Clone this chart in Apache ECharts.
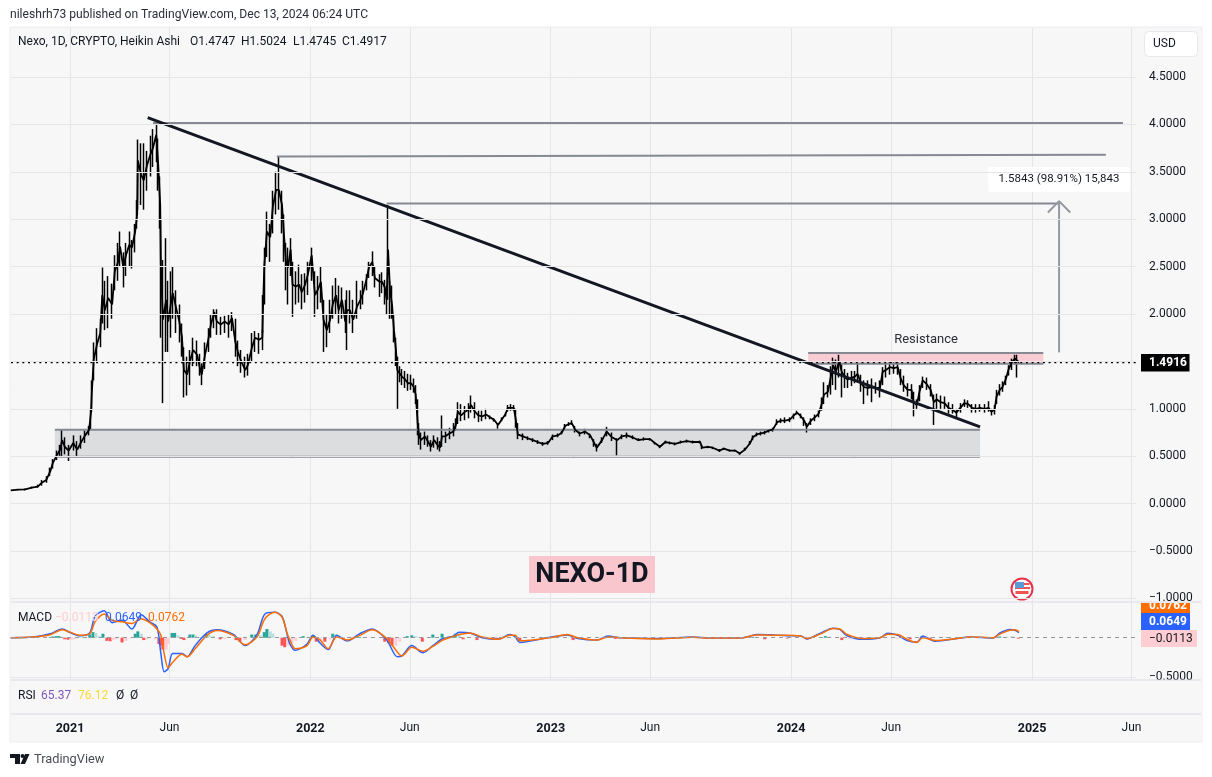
<!DOCTYPE html>
<html>
<head>
<meta charset="utf-8">
<title>NEXO-1D</title>
<script src="https://cdn.jsdelivr.net/npm/echarts@6/dist/echarts.min.js"></script>
<style>
  html, body { margin: 0; padding: 0; background: #fff; }
  #chart { width: 1212px; height: 777px; }
</style>
</head>
<body>
<div id="chart"></div>
<script>
// all day numbers are days since 2021-01-01
const priceDays = [
  -90, -79, -68, -58, -49, -43, -36, -30, -26, -20,
  -15, -12, -8, -2, 5, 11, 17, 23, 29, 32,
  33, 36, 41, 46, 49, 53, 58, 64, 68, 73,
  76, 81, 85, 90, 94, 99, 102, 103, 108, 112,
  117, 122, 126, 131, 134, 137, 138, 141, 146, 149,
  153, 156, 161, 166, 170, 173, 178, 182, 187, 193,
  197, 200, 205, 210, 214, 219, 223, 229, 235, 241,
  246, 251, 255, 260, 266, 270, 276, 281, 287, 292,
  293, 295, 299, 304, 308, 313, 317, 322, 325, 328,
  331, 335, 338, 343, 348, 352, 357, 361, 367, 372,
  376, 381, 385, 390, 395, 399, 404, 408, 413, 418,
  421, 425, 430, 436, 441, 445, 450, 454, 459, 463,
  470, 474, 478, 481, 483, 486, 489, 492, 495, 497,
  500, 504, 509, 513, 518, 522, 525, 528, 530, 533,
  539, 544, 548, 553, 558, 562, 565, 570, 576, 582,
  586, 589, 594, 600, 605, 609, 614, 620, 626, 632,
  638, 644, 650, 656, 661, 665, 670, 674, 677, 680,
  688, 695, 703, 710, 718, 726, 733, 741, 747, 752,
  758, 762, 767, 774, 782, 790, 796, 800, 808, 815,
  823, 831, 838, 846, 854, 863, 872, 881, 888, 896,
  904, 911, 919, 928, 937, 946, 957, 960, 969, 976,
  986, 993, 1002, 1010, 1017, 1025, 1033, 1037, 1043, 1049,
  1055, 1061, 1067, 1074, 1080, 1086, 1093, 1099, 1104, 1109,
  1115, 1119, 1125, 1131, 1137, 1142, 1145, 1151, 1156, 1159,
  1163, 1168, 1172, 1177, 1181, 1187, 1192, 1196, 1201, 1206,
  1212, 1218, 1224, 1230, 1234, 1239, 1245, 1251, 1257, 1261,
  1266, 1272, 1278, 1281, 1286, 1290, 1295, 1301, 1307, 1312,
  1316, 1322, 1328, 1334, 1340, 1346, 1352, 1358, 1364, 1370,
  1376, 1382, 1389, 1395, 1399, 1404, 1407, 1412, 1416, 1421,
  1425, 1430, 1435, 1438, 1441
];
const priceClose = [
  0.14, 0.147, 0.15, 0.17, 0.18, 0.22, 0.25, 0.34, 0.43, 0.51,
  0.57, 0.67, 0.60, 0.56, 0.64, 0.57, 0.65, 0.72, 0.78, 0.97,
  1.15, 1.52, 1.68, 1.80, 2.20, 2.04, 2.17, 2.10, 2.45, 2.55,
  2.71, 2.49, 2.62, 2.73, 2.70, 2.87, 3.05, 3.62, 3.47, 3.41,
  3.57, 3.68, 3.75, 3.89, 3.57, 3.15, 2.52, 1.94, 2.15, 1.92,
  2.10, 2.22, 2.07, 1.92, 1.76, 1.41, 1.36, 1.50, 1.62, 1.57,
  1.44, 1.36, 1.57, 1.73, 1.89, 2.02, 1.92, 1.89, 1.92, 1.89,
  1.96, 1.71, 1.60, 1.50, 1.41, 1.46, 1.64, 1.75, 1.73, 1.75,
  2.04, 2.50, 2.87, 2.81, 3.13, 3.31, 3.31, 3.15, 2.83, 2.55,
  2.49, 2.68, 2.31, 2.29, 2.31, 2.23, 2.31, 2.41, 2.62, 2.20,
  2.25, 2.34, 1.94, 1.83, 1.94, 2.10, 2.20, 2.04, 2.15, 1.92,
  2.04, 2.04, 1.94, 2.08, 2.15, 2.22, 2.36, 2.49, 2.55, 2.38,
  2.34, 2.34, 2.28, 2.15, 2.68, 2.25, 2.10, 1.83, 1.62, 1.41,
  1.39, 1.34, 1.31, 1.27, 1.27, 1.23, 1.15, 0.85, 0.72, 0.67,
  0.71, 0.65, 0.60, 0.67, 0.62, 0.59, 0.71, 0.71, 0.74, 0.76,
  0.83, 0.97, 0.93, 0.97, 0.99, 1.04, 0.98, 0.93, 0.92, 0.94,
  0.91, 0.885, 0.83, 0.89, 0.94, 1.01, 1.01, 1.01, 0.885, 0.73,
  0.71, 0.69, 0.67, 0.65, 0.63, 0.64, 0.71, 0.72, 0.75, 0.82,
  0.84, 0.85, 0.78, 0.74, 0.76, 0.72, 0.64, 0.59, 0.67, 0.76,
  0.70, 0.67, 0.71, 0.72, 0.70, 0.67, 0.68, 0.68, 0.64, 0.60,
  0.65, 0.64, 0.63, 0.65, 0.66, 0.65, 0.65, 0.59, 0.60, 0.59,
  0.56, 0.58, 0.56, 0.56, 0.53, 0.57, 0.64, 0.70, 0.73, 0.74,
  0.75, 0.77, 0.78, 0.86, 0.875, 0.875, 0.885, 0.93, 0.96, 0.93,
  0.875, 0.81, 0.875, 0.91, 0.95, 1.06, 1.15, 1.18, 1.36, 1.46,
  1.39, 1.50, 1.39, 1.33, 1.31, 1.33, 1.34, 1.37, 1.27, 1.23,
  1.22, 1.23, 1.22, 1.22, 1.39, 1.41, 1.44, 1.43, 1.44, 1.33,
  1.25, 1.20, 1.20, 1.07, 1.04, 1.18, 1.30, 1.26, 1.20, 1.07,
  1.10, 1.07, 1.06, 1.01, 0.99, 0.96, 1.01, 1.06, 1.05, 1.01,
  1.00, 1.01, 1.00, 1.01, 0.97, 0.99, 1.13, 1.20, 1.23, 1.31,
  1.41, 1.49, 1.53, 1.51, 1.4917
];
const priceHigh = [
  0.145, 0.155, 0.16, 0.18, 0.20, 0.25, 0.29, 0.38, 0.47, 0.56,
  0.62, 0.78, 0.70, 0.62, 0.72, 0.66, 0.72, 0.77, 0.82, 1.00,
  1.30, 1.70, 1.85, 1.95, 2.49, 2.35, 2.40, 2.32, 2.62, 2.75,
  2.87, 2.65, 2.75, 2.87, 2.78, 2.95, 3.20, 3.84, 3.80, 3.80,
  3.72, 3.88, 3.95, 4.03, 3.85, 3.45, 3.00, 2.57, 2.80, 2.35,
  2.45, 2.50, 2.25, 2.10, 1.90, 1.65, 1.55, 1.62, 1.75, 1.72,
  1.58, 1.48, 1.70, 1.85, 2.00, 2.05, 2.05, 1.97, 1.98, 2.00,
  2.02, 1.95, 1.72, 1.62, 1.55, 1.58, 1.80, 1.82, 1.80, 1.83,
  2.20, 2.70, 3.08, 2.95, 3.30, 3.50, 3.66, 3.30, 3.05, 2.75,
  2.70, 2.80, 2.55, 2.45, 2.52, 2.42, 2.43, 2.55, 2.70, 2.45,
  2.40, 2.50, 2.15, 2.00, 2.15, 2.30, 2.38, 2.30, 2.28, 2.15,
  2.25, 2.25, 2.15, 2.35, 2.25, 2.35, 2.42, 2.55, 2.66, 2.50,
  2.42, 2.44, 2.36, 2.30, 3.15, 2.35, 2.30, 2.00, 1.75, 1.55,
  1.45, 1.42, 1.40, 1.37, 1.36, 1.32, 1.25, 1.10, 0.85, 0.75,
  0.76, 0.72, 0.67, 0.72, 0.70, 0.66, 0.93, 0.76, 0.80, 0.85,
  0.90, 1.07, 1.05, 1.03, 1.06, 1.14, 1.07, 0.98, 0.98, 1.00,
  0.93, 0.90, 0.85, 0.91, 0.96, 1.04, 1.05, 1.04, 1.00, 0.85,
  0.74, 0.71, 0.69, 0.67, 0.65, 0.66, 0.73, 0.74, 0.77, 0.84,
  0.86, 0.88, 0.82, 0.76, 0.79, 0.74, 0.68, 0.63, 0.70, 0.81,
  0.75, 0.69, 0.73, 0.75, 0.72, 0.69, 0.70, 0.69, 0.65, 0.61,
  0.665, 0.655, 0.645, 0.665, 0.675, 0.665, 0.665, 0.62, 0.61, 0.60,
  0.575, 0.59, 0.57, 0.57, 0.54, 0.59, 0.66, 0.72, 0.75, 0.76,
  0.77, 0.78, 0.80, 0.89, 0.90, 0.91, 0.91, 0.95, 0.98, 0.95,
  0.91, 0.85, 0.90, 0.94, 0.98, 1.12, 1.28, 1.25, 1.45, 1.54,
  1.52, 1.57, 1.48, 1.42, 1.38, 1.40, 1.40, 1.48, 1.36, 1.30,
  1.30, 1.32, 1.28, 1.30, 1.44, 1.47, 1.50, 1.49, 1.50, 1.42,
  1.35, 1.27, 1.26, 1.18, 1.10, 1.25, 1.34, 1.33, 1.26, 1.15,
  1.16, 1.14, 1.13, 1.07, 1.05, 1.00, 1.06, 1.10, 1.09, 1.05,
  1.05, 1.05, 1.05, 1.08, 1.00, 1.04, 1.20, 1.26, 1.29, 1.35,
  1.46, 1.53, 1.57, 1.57, 1.5024
];
const priceLow = [
  0.135, 0.14, 0.14, 0.16, 0.17, 0.19, 0.22, 0.29, 0.37, 0.46,
  0.50, 0.50, 0.52, 0.45, 0.56, 0.49, 0.58, 0.64, 0.72, 0.78,
  0.97, 1.30, 1.50, 1.65, 1.90, 1.83, 1.85, 1.95, 2.25, 2.35,
  2.50, 2.28, 2.40, 2.50, 2.48, 2.65, 2.90, 3.10, 3.15, 3.10,
  3.30, 3.45, 3.55, 3.60, 3.30, 2.90, 1.75, 1.06, 1.60, 1.60,
  1.75, 1.95, 1.80, 1.70, 1.55, 1.12, 1.14, 1.25, 1.45, 1.45,
  1.35, 1.25, 1.42, 1.60, 1.75, 1.85, 1.78, 1.78, 1.80, 1.75,
  1.82, 1.55, 1.45, 1.38, 1.33, 1.35, 1.50, 1.60, 1.58, 1.62,
  1.80, 2.10, 2.60, 2.55, 2.85, 3.05, 3.10, 2.85, 2.55, 2.25,
  2.10, 2.40, 1.97, 2.10, 2.12, 2.05, 2.12, 2.20, 2.35, 1.97,
  2.05, 2.12, 1.60, 1.65, 1.80, 1.95, 2.00, 1.90, 1.95, 1.80,
  1.62, 1.90, 1.80, 1.95, 2.05, 2.10, 2.25, 2.38, 2.40, 2.28,
  2.18, 2.22, 2.10, 2.00, 2.15, 1.95, 1.95, 1.70, 1.45, 1.00,
  1.28, 1.25, 1.22, 1.19, 1.20, 1.17, 1.05, 0.72, 0.62, 0.57,
  0.62, 0.60, 0.55, 0.59, 0.57, 0.55, 0.60, 0.64, 0.68, 0.71,
  0.77, 0.84, 0.87, 0.88, 0.90, 0.96, 0.90, 0.86, 0.87, 0.89,
  0.89, 0.865, 0.79, 0.87, 0.92, 0.97, 0.98, 0.98, 0.80, 0.68,
  0.67, 0.67, 0.65, 0.63, 0.61, 0.62, 0.67, 0.70, 0.73, 0.78,
  0.82, 0.83, 0.75, 0.71, 0.73, 0.69, 0.60, 0.55, 0.64, 0.71,
  0.66, 0.51, 0.68, 0.69, 0.68, 0.66, 0.665, 0.665, 0.625, 0.585,
  0.635, 0.625, 0.615, 0.635, 0.645, 0.635, 0.635, 0.575, 0.585, 0.575,
  0.545, 0.565, 0.55, 0.55, 0.515, 0.555, 0.62, 0.67, 0.71, 0.72,
  0.73, 0.75, 0.76, 0.83, 0.85, 0.85, 0.86, 0.89, 0.94, 0.90,
  0.82, 0.75, 0.83, 0.87, 0.91, 0.98, 1.05, 1.12, 1.15, 1.25,
  1.20, 1.33, 1.12, 1.22, 1.22, 1.24, 1.27, 1.28, 1.18, 1.05,
  1.14, 1.07, 1.16, 1.12, 1.25, 1.33, 1.36, 1.37, 1.36, 1.25,
  1.18, 1.13, 1.10, 0.92, 1.00, 1.08, 1.22, 1.20, 1.13, 0.83,
  1.00, 1.00, 1.00, 0.95, 0.95, 0.90, 0.96, 1.02, 1.01, 0.96,
  0.96, 0.97, 0.96, 0.97, 0.93, 0.94, 1.05, 1.14, 1.18, 1.25,
  1.35, 1.41, 1.47, 1.33, 1.4745
];

const macdDays = [
  -90, -56, -30, -12, 0, 15, 30, 38, 52, 64,
  79, 94, 108, 121, 132, 138, 143, 149, 156, 170,
  178, 190, 208, 223, 248, 266, 284, 296, 311, 322,
  330, 334, 342, 360, 369, 380, 392, 405, 421, 440,
  459, 481, 497, 504, 519, 536, 551, 566, 582, 591,
  607, 626, 650, 668, 676, 683, 729, 755, 771, 800,
  817, 835, 896, 946, 972, 1022, 1043, 1068, 1089, 1109,
  1119, 1139, 1159, 1169, 1180, 1204, 1230, 1242, 1257, 1271,
  1286, 1295, 1314, 1347, 1367, 1402, 1412, 1427, 1435, 1441
];
const macdLine = [
  0, 0.008, 0.05, 0.11, 0.065, 0.025, 0.06, 0.27, 0.34, 0.19,
  0.22, 0.11, 0.29, 0.20, 0.135, -0.20, -0.43, -0.39, -0.20, -0.20,
  -0.24, -0.10, 0.06, 0.10, 0.04, -0.10, 0.04, 0.30, 0.32, 0.27,
  0.03, -0.08, -0.16, -0.08, 0.03, -0.07, -0.15, 0.03, -0.04, 0.05,
  0.11, -0.03, -0.24, -0.23, -0.10, -0.19, -0.10, -0.01, 0.02, 0.07,
  0.06, 0, -0.02, 0.04, 0.01, -0.06, 0.005, 0.035, -0.01, -0.03,
  0.02, 0, -0.01, 0.01, -0.005, 0, 0.04, 0.035, 0.025, 0.025,
  -0.015, 0.055, 0.12, 0.105, 0.025, -0.02, 0, 0.055, 0.03, -0.035,
  -0.055, 0.02, -0.045, -0.01, 0.01, -0.005, 0.06, 0.105, 0.095, 0.0649
];
const signalLine = [
  0, 0.008, 0.038, 0.10, 0.07, 0.03, 0.05, 0.20, 0.30, 0.22,
  0.20, 0.18, 0.24, 0.19, 0.11, 0.03, -0.20, -0.38, -0.31, -0.21,
  -0.24, -0.14, 0.03, 0.09, 0.03, -0.09, 0.01, 0.24, 0.32, 0.26,
  0.05, -0.03, -0.14, -0.10, 0.01, -0.03, -0.14, 0.01, -0.03, 0.03,
  0.10, -0.01, -0.18, -0.23, -0.12, -0.17, -0.11, -0.03, 0.015, 0.04,
  0.06, 0.01, -0.02, 0.03, 0.03, -0.04, 0, 0.04, 0, -0.03,
  0.01, 0, -0.015, 0.005, -0.005, 0, 0.035, 0.03, 0.03, 0.02,
  -0.01, 0.045, 0.115, 0.11, 0.04, -0.01, 0, 0.045, 0.04, -0.02,
  -0.06, 0, -0.035, -0.01, 0.01, 0, 0.045, 0.095, 0.10, 0.0762
];
const histDays = [
  -30, -26, -21, -17, -12, -8, -3, 2, 6, 11,
  15, 20, 30, 35, 39, 44, 50, 56, 61, 65,
  70, 79, 85, 91, 99, 103, 108, 112, 117, 129,
  135, 138, 141, 146, 149, 155, 159, 164, 169, 173,
  182, 187, 191, 197, 207, 211, 217, 228, 235, 252,
  258, 266, 276, 282, 289, 295, 299, 304, 308, 313,
  322, 326, 331, 337, 343, 354, 361, 369, 374, 380,
  387, 395, 399, 404, 415, 425, 440, 456, 478, 484,
  489, 495, 501, 512, 519, 525, 535, 551, 565, 585,
  591, 597, 618, 627, 648, 683, 733, 764, 785, 820,
  828, 847, 861, 896, 967, 987, 1037, 1055, 1068, 1089,
  1104, 1119, 1147, 1154, 1172, 1184, 1256, 1276, 1294, 1306,
  1332, 1412, 1423, 1431, 1440
];
const histValues = [
  0.01, 0.015, 0.02, 0.02, 0.01, -0.02, -0.025, -0.025, -0.02, -0.01,
  0.002, 0.005, 0.04, 0.07, 0.06, 0.02, 0.05, -0.04, -0.045, -0.03,
  -0.02, -0.06, -0.04, -0.01, 0.05, 0.08, 0.05, -0.03, -0.02, -0.02,
  -0.08, -0.10, -0.15, -0.15, -0.08, 0.06, 0.06, 0.03, -0.015, -0.03,
  0.04, 0.04, 0.03, 0.01, 0.05, 0.04, 0.02, -0.02, -0.02, -0.03,
  -0.05, -0.03, 0.04, 0.04, 0.03, 0.07, 0.11, 0.08, 0.05, 0.01,
  -0.10, -0.12, -0.10, -0.07, -0.04, 0.02, 0.01, 0.03, -0.05, -0.03,
  -0.05, -0.02, 0.05, 0.04, -0.02, 0.01, 0.01, 0.005, -0.05, -0.07,
  -0.10, -0.10, -0.05, 0.02, 0.03, 0.02, -0.05, 0.04, 0.05, 0.05,
  0.04, -0.02, -0.03, -0.01, -0.02, -0.04, 0.01, -0.03, -0.02, 0.015,
  -0.015, -0.015, -0.015, -0.01, -0.01, -0.01, 0.01, -0.02, 0.01, -0.01,
  0.01, -0.02, 0.02, 0.015, -0.03, -0.015, -0.015, -0.02, 0.02, -0.02,
  0.008, 0.015, 0.012, 0.012, -0.0113
];

const tickDays = [0, 151, 365, 516, 730, 881, 1095, 1247, 1461, 1612];
const tickLabels = ['2021', 'Jun', '2022', 'Jun', '2023', 'Jun', '2024', 'Jun', '2025', 'Jun'];
const priceTicks = [-1, -0.5, 0, 0.5, 1, 1.5, 2, 2.5, 3, 3.5, 4, 4.5];
const macdTicks = [-0.5];

const lastPrice = 1.4916;
const trendDays = [118, 1382];
const trendPrices = [4.07, 0.81];
const topLineDays = [126, 1599];
const topLinePrices = [4.015, 4.015];
const secondLineDays = [314, 1573];
const secondLinePrices = [3.66, 3.68];
const thirdLineDays = [481, 1503];
const thirdLinePrices = [3.165, 3.165];
const supportDays = [-23, 1382];
const supportPrices = [0.78, 0.495];
const resistanceDays = [1121, 1478];
const resistancePrices = [1.59, 1.475];
const arrowDays = [1502, 1502];
const arrowPrices = [1.595, 3.19];
const arrowHeadDays = [1485, 1502, 1519];
const arrowHeadPrices = [3.07, 3.19, 3.07];

const FONT = 'Roboto, sans-serif';
const INK = '#131722';
const GREY = '#868993';
const xMin = -89.6;
const xMax = 1618.8;

function pairs(days, values) {
  return days.map((d, i) => [d, values[i]]);
}

function lineSeries(name, days, values, color, width, gridIndex, extra) {
  return Object.assign({
    name,
    type: 'line',
    xAxisIndex: gridIndex,
    yAxisIndex: gridIndex,
    data: pairs(days, values),
    showSymbol: false,
    symbol: 'none',
    silent: true,
    lineStyle: { color, width, cap: 'butt' }
  }, extra || {});
}

function band(name, days, prices, fill) {
  return {
    name,
    type: 'line',
    xAxisIndex: 0,
    yAxisIndex: 0,
    data: [],
    silent: true,
    markArea: {
      silent: true,
      itemStyle: { color: fill },
      data: [[
        { coord: [days[0], prices[0]] },
        { coord: [days[1], prices[1]] }
      ]]
    }
  };
}

function text(str, x, y, color, size, extra) {
  return Object.assign({
    type: 'text',
    x,
    y,
    silent: true,
    z: 20,
    style: Object.assign({
      text: str,
      fill: color,
      font: `${size || 12}px ${FONT}`,
      align: 'left',
      verticalAlign: 'middle'
    }, (extra && extra.style) || {})
  }, extra && extra.z !== undefined ? { z: extra.z } : {});
}

function rect(x, y, w, h, fill, z, r, stroke) {
  return {
    type: 'rect',
    silent: true,
    z: z === undefined ? 10 : z,
    shape: { x, y, width: w, height: h, r: r || 0 },
    style: { fill, stroke: stroke || null, lineWidth: stroke ? 1 : 0 }
  };
}

function hLine(y) {
  return {
    type: 'line',
    silent: true,
    z: 6,
    shape: { x1: 11, y1: y, x2: 1201, y2: y },
    style: { stroke: '#d9d9e4', lineWidth: 1.2 }
  };
}

function axisPair(gridIndex, showSplit) {
  return {
    type: 'value',
    gridIndex,
    min: xMin,
    max: xMax,
    axisLine: { show: false },
    axisTick: { show: false, customValues: tickDays },
    axisLabel: { show: false },
    splitLine: { show: showSplit, lineStyle: { color: '#e6e6e8', width: 1 } }
  };
}

const candleData = priceDays.map((d, i) => [
  d,
  i === 0 ? priceClose[0] : priceClose[i - 1],
  priceClose[i],
  priceLow[i],
  priceHigh[i]
]);

const histData = histDays.map((d, i) => {
  const v = histValues[i];
  const prev = i === 0 ? 0 : histValues[i - 1];
  let color;
  if (v >= 0) color = v >= prev ? '#26a69a' : '#b2dfdb';
  else color = v < prev ? '#ff5252' : '#ffcdd2';
  return { value: [d, v], itemStyle: { color } };
});

const chart = echarts.init(document.getElementById('chart'), null, { renderer: 'canvas' });

chart.setOption({
  animation: false,
  backgroundColor: '#ffffff',
  textStyle: { fontFamily: FONT },
  grid: [
    { left: 11, top: 28, width: 1125, height: 574 },
    { left: 11, top: 603, width: 1125, height: 77 },
    { left: 11, top: 681, width: 1125, height: 33 }
  ],
  xAxis: [
    axisPair(0, true),
    axisPair(1, true),
    Object.assign(axisPair(2, false), {
      axisLabel: {
        show: true,
        customValues: tickDays,
        margin: 8,
        color: INK,
        fontFamily: FONT,
        fontSize: 12,
        hideOverlap: false,
        formatter: v => {
          const s = tickLabels[tickDays.indexOf(v)];
          return s === 'Jun' ? s : `{year|${s}}`;
        },
        rich: { year: { fontWeight: 'bold', fontSize: 12.5, color: INK, fontFamily: FONT } }
      }
    })
  ],
  yAxis: [
    {
      type: 'value',
      gridIndex: 0,
      position: 'right',
      min: -1.037,
      max: 5.016,
      z: 12,
      axisLine: { show: false },
      axisTick: { show: false, customValues: priceTicks },
      axisLabel: {
        customValues: priceTicks,
        margin: 13,
        padding: [2, 0, 0, 0],
        color: INK,
        fontFamily: FONT,
        fontSize: 12,
        formatter: v => v.toFixed(4).replace('-', '\u2212')
      },
      splitLine: { show: true, lineStyle: { color: '#e6e6e8', width: 1 } }
    },
    {
      type: 'value',
      gridIndex: 1,
      position: 'right',
      min: -0.534,
      max: 0.438,
      axisLine: { show: false },
      axisTick: { show: false, customValues: macdTicks },
      axisLabel: {
        customValues: macdTicks,
        margin: 13,
        color: INK,
        fontFamily: FONT,
        fontSize: 12,
        formatter: v => v.toFixed(4).replace('-', '\u2212')
      },
      splitLine: { show: true, lineStyle: { color: '#e6e6e8', width: 1 } }
    },
    {
      type: 'value',
      gridIndex: 2,
      position: 'right',
      min: 0,
      max: 100,
      axisLine: { show: false },
      axisTick: { show: false },
      axisLabel: { show: false },
      splitLine: { show: false }
    }
  ],
  series: [
    band('support', supportDays, supportPrices, '#dcdddf'),
    band('resistance', resistanceDays, resistancePrices, '#f8ccd2'),
    lineSeries('supportTop', supportDays, [supportPrices[0], supportPrices[0]], GREY, 2, 0),
    lineSeries('supportBottom', supportDays, [supportPrices[1], supportPrices[1]], GREY, 2, 0),
    lineSeries('resistanceTop', resistanceDays, [resistancePrices[0], resistancePrices[0]], GREY, 2, 0),
    lineSeries('resistanceBottom', resistanceDays, [resistancePrices[1], resistancePrices[1]], GREY, 2, 0),
    lineSeries('lastPrice', [xMin, xMax], [lastPrice, lastPrice], '#000000', 2.2, 0, {
      lineStyle: { color: '#000000', width: 2.2, type: [2, 3.67] }
    }),
    lineSeries('top', topLineDays, topLinePrices, GREY, 2, 0),
    lineSeries('second', secondLineDays, secondLinePrices, GREY, 2, 0),
    lineSeries('third', thirdLineDays, thirdLinePrices, GREY, 2, 0),
    lineSeries('arrow', arrowDays, arrowPrices, '#9598a1', 2, 0),
    lineSeries('arrowHead', arrowHeadDays, arrowHeadPrices, '#9598a1', 2, 0),
    {
      name: 'Nexo',
      type: 'candlestick',
      xAxisIndex: 0,
      yAxisIndex: 0,
      barWidth: 1,
      silent: true,
      data: candleData,
      itemStyle: {
        color: '#000000',
        color0: '#000000',
        borderColor: '#000000',
        borderColor0: '#000000',
        borderWidth: 1.5
      }
    },
    lineSeries('closeLine', priceDays, priceClose, '#000000', 1.8, 0),
    lineSeries('trend', trendDays, trendPrices, INK, 3, 0),
    {
      name: 'Histogram',
      type: 'bar',
      xAxisIndex: 1,
      yAxisIndex: 1,
      barWidth: 3,
      silent: true,
      data: histData,
      markLine: {
        silent: true,
        symbol: 'none',
        label: { show: false },
        lineStyle: { color: '#9a9a9e', type: [4, 4], width: 1 },
        data: [{ yAxis: 0 }]
      }
    },
    lineSeries('MACD', macdDays, macdLine, '#2962ff', 1.5, 1, { smooth: 0.3 }),
    lineSeries('Signal', macdDays, signalLine, '#ff6d00', 1.5, 1, { smooth: 0.3 })
  ],
  graphic: {
    elements: [
      // panel
      rect(10, 27, 1192, 715, '#f7f7f8', -1, 0, '#eeeef2'),
      // pane separators
      hLine(602),
      hLine(680),
      hLine(714),
      // header texts
      text('nileshrh73 published on TradingView.com, Dec 13, 2024 06:24 UTC', 10, 15, '#2a2e39', 12.1),
      text('Nexo, 1D, CRYPTO, Heikin Ashi', 18, 41.5, INK, 12),
      text('O1.4747', 190, 41.5, INK, 12),
      text('H1.5024', 241, 41.5, INK, 12),
      text('L1.4745', 293, 41.5, INK, 12),
      text('C1.4917', 342, 41.5, INK, 12),
      // currency button
      rect(1144.5, 31.5, 53, 25, '#ffffff', 10, 4, '#e8e8ec'),
      text('USD', 1153, 44, INK, 12),
      // annotations
      text('Resistance', 926, 340, '#2a2e39', 13, { style: { align: 'center' } }),
      rect(988, 167, 142, 25, '#ffffff', 10, 3),
      text('1.5843 (98.91%) 15,843', 1059, 179.5, INK, 11.5, { style: { align: 'center' } }),
      rect(529, 556, 126, 37, '#f8c6cc', 10),
      text('NEXO-1D', 592, 575, '#131722', 27, { style: { align: 'center', font: `bold 27px ${FONT}` } }),
      // last price tag
      rect(1141, 354, 48.5, 17.5, '#000000', 10),
      text('1.4916', 1149, 363, '#ffffff', 12, { style: { font: `bold 12px ${FONT}` } }),
      // macd and rsi legends
      text('MACD', 18, 617.5, INK, 12),
      text('\u22120.0113', 55, 617.5, '#ffcdd2', 12),
      text('0.0649', 105, 617.5, '#2962ff', 12),
      text('0.0762', 148, 617.5, '#ff6d00', 12),
      text('RSI', 18, 696, INK, 12),
      text('65.37', 41, 696, '#7e57c2', 12),
      text('76.12', 78, 696, '#fdd835', 12),
      text('\u00d8', 116, 696, INK, 12),
      text('\u00d8', 130, 696, INK, 12),
      // macd value tags, the orange one is cut off by the pane edge
      rect(1141, 603, 49, 10, '#ff6d00', 3),
      text('0.0762', 1149, 606, '#ffffff', 12, { z: 4, style: { font: `bold 12px ${FONT}` } }),
      rect(1141, 594, 60, 8.5, '#f7f7f8', 5),
      rect(1141, 613, 49, 17, '#2962ff', 10),
      text('0.0649', 1149, 621.5, '#ffffff', 12, { style: { font: `bold 12px ${FONT}` } }),
      rect(1141, 630, 56, 17, '#ffcdd2', 10),
      text('\u22120.0113', 1149, 638.5, INK, 12),
      // event flag
      { type: 'circle', silent: true, z: 10, shape: { cx: 1022, cy: 589, r: 10.5 }, style: { fill: '#ffffff', stroke: '#e8324a', lineWidth: 2 } },
      { type: 'rect', silent: true, z: 12, shape: { x: 1015, y: 582, width: 9, height: 6 }, style: { fill: '#5b9bd5' } },
      { type: 'rect', silent: true, z: 11, shape: { x: 1015, y: 583, width: 14.5, height: 2 }, style: { fill: '#ef5350' } },
      { type: 'rect', silent: true, z: 11, shape: { x: 1015, y: 587, width: 15, height: 2 }, style: { fill: '#ef5350' } },
      { type: 'rect', silent: true, z: 11, shape: { x: 1015.5, y: 591, width: 13, height: 3 }, style: { fill: '#ef5350' } },
      // footer logo
      { type: 'polygon', silent: true, z: 10, shape: { points: [[10, 754], [20, 754], [20, 764], [15, 764], [15, 758], [10, 758]] }, style: { fill: '#131722' } },
      { type: 'circle', silent: true, z: 10, shape: { cx: 22.5, cy: 756, r: 2 }, style: { fill: '#131722' } },
      { type: 'polygon', silent: true, z: 10, shape: { points: [[25, 754], [29.5, 754], [25, 764], [20.5, 764]] }, style: { fill: '#131722' } },
      text('TradingView', 34, 760, '#4a4d57', 12.8)
    ]
  }
});
</script>
</body>
</html>
